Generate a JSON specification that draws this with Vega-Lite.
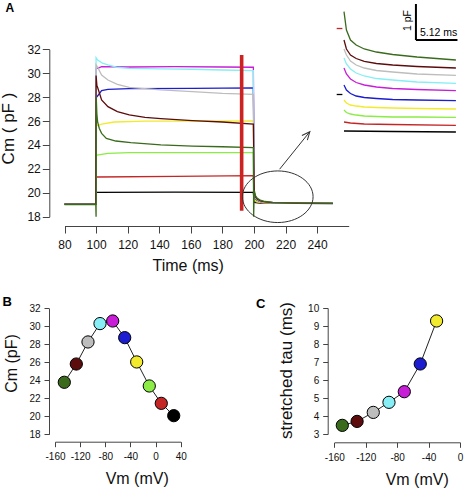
{
  "$schema": "https://vega.github.io/schema/vega-lite/v6.json",
  "width": 467,
  "height": 488,
  "autosize": "none",
  "padding": 0,
  "background": "white",
  "config": {
    "font": "Liberation Sans",
    "view": {"stroke": null},
    "axis": {"grid": false, "domainColor": "#444", "tickColor": "#444", "labelColor": "#111", "titleColor": "#111", "labelFont": "Liberation Sans", "titleFont": "Liberation Sans", "titleFontWeight": "normal", "labelFlush": false, "labelOverlap": false, "labelExpr": "'' + datum.value"}
  },
  "datasets": {
    "traces": [
      {"s":"30","t":80,"v":19.03},{"s":"30","t":99.8,"v":19.03},{"s":"30","t":100,"v":20.04},{"s":"30","t":150,"v":20.05},{"s":"30","t":199.6,"v":20.04},{"s":"30","t":200.2,"v":19.2},{"s":"30","t":204,"v":19.13},{"s":"30","t":250,"v":19.1},
      {"s":"10","t":80,"v":19.04},{"s":"10","t":99.8,"v":19.04},{"s":"10","t":100,"v":21.3},{"s":"10","t":100.6,"v":21.32},{"s":"10","t":150,"v":21.38},{"s":"10","t":199.6,"v":21.43},{"s":"10","t":200.2,"v":19.3},{"s":"10","t":202,"v":19.2},{"s":"10","t":206,"v":19.14},{"s":"10","t":250,"v":19.11},
      {"s":"-10","t":80,"v":19.05},{"s":"-10","t":99.8,"v":19.05},{"s":"-10","t":100,"v":23.1},{"s":"-10","t":100.6,"v":23.16},{"s":"-10","t":107.5,"v":23.3},{"s":"-10","t":121,"v":23.36},{"s":"-10","t":199.6,"v":23.36},{"s":"-10","t":200.2,"v":19.4},{"s":"-10","t":201,"v":19.3},{"s":"-10","t":202,"v":19.23},{"s":"-10","t":205,"v":19.17},{"s":"-10","t":212,"v":19.13},{"s":"-10","t":250,"v":19.11},
      {"s":"-30","t":80,"v":19.06},{"s":"-30","t":99.8,"v":19.06},{"s":"-30","t":100,"v":25.6},{"s":"-30","t":100.6,"v":25.61},{"s":"-30","t":103.5,"v":25.75},{"s":"-30","t":111.5,"v":25.92},{"s":"-30","t":131,"v":26.0},{"s":"-30","t":161,"v":26.0},{"s":"-30","t":199.6,"v":26.02},{"s":"-30","t":200.2,"v":19.55},{"s":"-30","t":201,"v":19.4},{"s":"-30","t":202,"v":19.3},{"s":"-30","t":204,"v":19.22},{"s":"-30","t":207,"v":19.17},{"s":"-30","t":212,"v":19.14},{"s":"-30","t":250,"v":19.11},
      {"s":"-50","t":80,"v":19.07},{"s":"-50","t":99.8,"v":19.07},{"s":"-50","t":100,"v":28.0},{"s":"-50","t":100.6,"v":28.04},{"s":"-50","t":103.5,"v":28.54},{"s":"-50","t":107.5,"v":28.65},{"s":"-50","t":121,"v":28.71},{"s":"-50","t":161,"v":28.74},{"s":"-50","t":199.6,"v":28.77},{"s":"-50","t":200.2,"v":19.7},{"s":"-50","t":201,"v":19.5},{"s":"-50","t":202,"v":19.38},{"s":"-50","t":204,"v":19.26},{"s":"-50","t":207,"v":19.2},{"s":"-50","t":212,"v":19.16},{"s":"-50","t":225,"v":19.13},{"s":"-50","t":250,"v":19.12},
      {"s":"-70","t":80,"v":19.08},{"s":"-70","t":99.8,"v":19.08},{"s":"-70","t":100,"v":30.4},{"s":"-70","t":101,"v":30.41},{"s":"-70","t":103.5,"v":30.55},{"s":"-70","t":120,"v":30.52},{"s":"-70","t":150,"v":30.55},{"s":"-70","t":180,"v":30.52},{"s":"-70","t":199.6,"v":30.5},{"s":"-70","t":200.2,"v":19.8},{"s":"-70","t":201,"v":19.55},{"s":"-70","t":202,"v":19.42},{"s":"-70","t":204,"v":19.28},{"s":"-70","t":207,"v":19.21},{"s":"-70","t":212,"v":19.17},{"s":"-70","t":225,"v":19.14},{"s":"-70","t":250,"v":19.12},
      {"s":"-90","t":80,"v":19.08},{"s":"-90","t":99.8,"v":19.08},{"s":"-90","t":100,"v":31.3},{"s":"-90","t":101,"v":31.1},{"s":"-90","t":104,"v":30.85},{"s":"-90","t":107.5,"v":30.69},{"s":"-90","t":113,"v":30.5},{"s":"-90","t":121,"v":30.41},{"s":"-90","t":141,"v":30.36},{"s":"-90","t":161,"v":30.33},{"s":"-90","t":180,"v":30.27},{"s":"-90","t":199.6,"v":30.22},{"s":"-90","t":200.2,"v":19.85},{"s":"-90","t":201,"v":19.58},{"s":"-90","t":202,"v":19.43},{"s":"-90","t":204,"v":19.29},{"s":"-90","t":207,"v":19.21},{"s":"-90","t":212,"v":19.17},{"s":"-90","t":225,"v":19.14},{"s":"-90","t":250,"v":19.12},
      {"s":"-110","t":80,"v":19.06},{"s":"-110","t":99.8,"v":19.06},{"s":"-110","t":100,"v":30.7},{"s":"-110","t":101,"v":30.5},{"s":"-110","t":103.5,"v":29.85},{"s":"-110","t":107.5,"v":29.43},{"s":"-110","t":113.5,"v":29.07},{"s":"-110","t":121,"v":28.82},{"s":"-110","t":131,"v":28.71},{"s":"-110","t":141,"v":28.6},{"s":"-110","t":161,"v":28.46},{"s":"-110","t":180,"v":28.32},{"s":"-110","t":199.6,"v":28.24},{"s":"-110","t":200.2,"v":19.9},{"s":"-110","t":201,"v":19.6},{"s":"-110","t":202,"v":19.45},{"s":"-110","t":204,"v":19.3},{"s":"-110","t":207,"v":19.22},{"s":"-110","t":212,"v":19.17},{"s":"-110","t":225,"v":19.14},{"s":"-110","t":250,"v":19.12},
      {"s":"-130","t":80,"v":19.05},{"s":"-130","t":99.8,"v":19.05},{"s":"-130","t":100,"v":29.8},{"s":"-130","t":100.5,"v":29.0},{"s":"-130","t":101.5,"v":28.6},{"s":"-130","t":103.5,"v":27.76},{"s":"-130","t":107.5,"v":27.2},{"s":"-130","t":113.5,"v":26.79},{"s":"-130","t":121,"v":26.51},{"s":"-130","t":131,"v":26.31},{"s":"-130","t":141,"v":26.2},{"s":"-130","t":161,"v":26.03},{"s":"-130","t":180,"v":25.92},{"s":"-130","t":199.6,"v":25.75},{"s":"-130","t":200.2,"v":20.0},{"s":"-130","t":201,"v":19.65},{"s":"-130","t":202,"v":19.48},{"s":"-130","t":204,"v":19.33},{"s":"-130","t":207,"v":19.24},{"s":"-130","t":212,"v":19.18},{"s":"-130","t":225,"v":19.14},{"s":"-130","t":250,"v":19.12},
      {"s":"-150","t":80,"v":19.02},{"s":"-150","t":99.8,"v":19.02},{"s":"-150","t":100,"v":18.0},{"s":"-150","t":100.1,"v":28.0},{"s":"-150","t":100.5,"v":26.6},{"s":"-150","t":101,"v":25.9},{"s":"-150","t":102,"v":25.4},{"s":"-150","t":103.5,"v":24.97},{"s":"-150","t":106.5,"v":24.55},{"s":"-150","t":112.5,"v":24.33},{"s":"-150","t":122,"v":24.19},{"s":"-150","t":141,"v":24.0},{"s":"-150","t":161,"v":23.91},{"s":"-150","t":180,"v":23.85},{"s":"-150","t":199.6,"v":23.78},{"s":"-150","t":199.8,"v":18.0},{"s":"-150","t":200.2,"v":20.2},{"s":"-150","t":201,"v":19.75},{"s":"-150","t":202,"v":19.55},{"s":"-150","t":204,"v":19.38},{"s":"-150","t":207,"v":19.27},{"s":"-150","t":212,"v":19.2},{"s":"-150","t":225,"v":19.15},{"s":"-150","t":250,"v":19.12}
    ],
    "inset": [
      {"s":"30","g":"m","t":0,"v":0.25},{"s":"30","g":"m","t":6,"v":0.236},{"s":"30","g":"m","t":13.8,"v":0.222},
      {"s":"30","g":"p","t":-0.9,"v":1.264},{"s":"30","g":"p","t":-0.2,"v":1.264},
      {"s":"10","g":"m","t":0,"v":0.5},{"s":"10","g":"m","t":0.8,"v":0.472},{"s":"10","g":"m","t":2.5,"v":0.444},{"s":"10","g":"m","t":6,"v":0.431},{"s":"10","g":"m","t":13.8,"v":0.408},
      {"s":"10","g":"p","t":-0.9,"v":3.097},{"s":"10","g":"p","t":-0.2,"v":3.097},
      {"s":"-10","g":"m","t":0,"v":0.833},{"s":"-10","g":"m","t":0.3,"v":0.764},{"s":"-10","g":"m","t":0.8,"v":0.722},{"s":"-10","g":"m","t":1.5,"v":0.694},{"s":"-10","g":"m","t":2.5,"v":0.667},{"s":"-10","g":"m","t":4,"v":0.653},{"s":"-10","g":"m","t":6,"v":0.639},{"s":"-10","g":"m","t":9,"v":0.639},{"s":"-10","g":"m","t":13.8,"v":0.631},
      {"s":"-30","g":"m","t":0,"v":1.111},{"s":"-30","g":"m","t":0.3,"v":1.028},{"s":"-30","g":"m","t":0.8,"v":0.972},{"s":"-30","g":"m","t":1.5,"v":0.944},{"s":"-30","g":"m","t":2.5,"v":0.917},{"s":"-30","g":"m","t":4,"v":0.903},{"s":"-30","g":"m","t":6,"v":0.889},{"s":"-30","g":"m","t":9,"v":0.875},{"s":"-30","g":"m","t":13.8,"v":0.861},
      {"s":"-50","g":"m","t":0,"v":1.528},{"s":"-50","g":"m","t":0.3,"v":1.389},{"s":"-50","g":"m","t":0.8,"v":1.292},{"s":"-50","g":"m","t":1.5,"v":1.222},{"s":"-50","g":"m","t":2.5,"v":1.181},{"s":"-50","g":"m","t":4,"v":1.153},{"s":"-50","g":"m","t":6,"v":1.125},{"s":"-50","g":"m","t":9,"v":1.111},{"s":"-50","g":"m","t":13.8,"v":1.092},
      {"s":"-70","g":"m","t":0,"v":2.0},{"s":"-70","g":"m","t":0.3,"v":1.833},{"s":"-70","g":"m","t":0.8,"v":1.694},{"s":"-70","g":"m","t":1.5,"v":1.597},{"s":"-70","g":"m","t":2.5,"v":1.528},{"s":"-70","g":"m","t":4,"v":1.472},{"s":"-70","g":"m","t":6,"v":1.431},{"s":"-70","g":"m","t":9,"v":1.403},{"s":"-70","g":"m","t":13.8,"v":1.369},
      {"s":"-90","g":"m","t":0,"v":2.278},{"s":"-90","g":"m","t":0.3,"v":2.111},{"s":"-90","g":"m","t":0.8,"v":1.972},{"s":"-90","g":"m","t":1.5,"v":1.861},{"s":"-90","g":"m","t":2.5,"v":1.778},{"s":"-90","g":"m","t":4,"v":1.708},{"s":"-90","g":"m","t":6,"v":1.667},{"s":"-90","g":"m","t":9,"v":1.611},{"s":"-90","g":"m","t":13.8,"v":1.575},
      {"s":"-110","g":"m","t":0,"v":2.528},{"s":"-110","g":"m","t":0.3,"v":2.361},{"s":"-110","g":"m","t":0.8,"v":2.194},{"s":"-110","g":"m","t":1.5,"v":2.083},{"s":"-110","g":"m","t":2.5,"v":2.0},{"s":"-110","g":"m","t":4,"v":1.931},{"s":"-110","g":"m","t":6,"v":1.889},{"s":"-110","g":"m","t":9,"v":1.833},{"s":"-110","g":"m","t":13.8,"v":1.797},
      {"s":"-130","g":"m","t":0,"v":2.778},{"s":"-130","g":"m","t":0.3,"v":2.528},{"s":"-130","g":"m","t":0.8,"v":2.361},{"s":"-130","g":"m","t":1.5,"v":2.264},{"s":"-130","g":"m","t":2.5,"v":2.181},{"s":"-130","g":"m","t":4,"v":2.125},{"s":"-130","g":"m","t":6,"v":2.083},{"s":"-130","g":"m","t":9,"v":2.042},{"s":"-130","g":"m","t":13.8,"v":2.0},
      {"s":"-150","g":"m","t":0,"v":3.564},{"s":"-150","g":"m","t":0.3,"v":3.056},{"s":"-150","g":"m","t":0.8,"v":2.778},{"s":"-150","g":"m","t":1.5,"v":2.639},{"s":"-150","g":"m","t":2.5,"v":2.528},{"s":"-150","g":"m","t":4,"v":2.444},{"s":"-150","g":"m","t":6,"v":2.375},{"s":"-150","g":"m","t":9,"v":2.306},{"s":"-150","g":"m","t":13.8,"v":2.222}
    ],
    "cm": [
      {"s":"-150","vm":-145.2,"cm":23.78},{"s":"-130","vm":-126.1,"cm":25.81},{"s":"-110","vm":-107.5,"cm":28.26},{"s":"-90","vm":-88.4,"cm":30.3},{"s":"-70","vm":-68.2,"cm":30.59},{"s":"-50","vm":-49.1,"cm":28.74},{"s":"-30","vm":-30.0,"cm":26.04},{"s":"-10","vm":-10.0,"cm":23.37},{"s":"10","vm":9.1,"cm":21.44},{"s":"30","vm":28.9,"cm":20.07}
    ],
    "tau": [
      {"s":"-150","vm":-149.8,"tau":3.48},{"s":"-130","vm":-131.0,"tau":3.7},{"s":"-110","vm":-110.4,"tau":4.2},{"s":"-90","vm":-90.4,"tau":4.76},{"s":"-70","vm":-70.9,"tau":5.35},{"s":"-50","vm":-50.6,"tau":6.89},{"s":"-30","vm":-29.8,"tau":9.28}
    ]
  },
  "layer": [
    {
      "layer": [
        {
          "data": {"name": "traces"},
          "mark": {"type": "line", "strokeWidth": 1.3},
          "encoding": {
            "x": {"field": "t", "type": "quantitative", "scale": {"domain": [80, 250], "range": [64.5, 348.7]},
              "axis": {"orient": "bottom", "offset": -262, "values": [80,100,120,140,160,180,200,220,240], "title": "Time (ms)", "titleFontSize": 16, "labelFontSize": 12, "tickSize": 7, "labelPadding": 6, "titlePadding": 7, "titleX": 187.7}},
            "y": {"field": "v", "type": "quantitative", "scale": {"domain": [18, 32], "range": [216.7, 49.3]},
              "axis": {"orient": "left", "offset": -49.3, "values": [18,20,22,24,26,28,30,32], "title": "Cm ( pF )", "titleFontSize": 17, "labelFontSize": 12, "tickSize": 7, "labelPadding": 2, "titlePadding": 9, "titleY": 128}},
            "color": {"field": "s", "type": "nominal", "legend": null,
              "scale": {"domain": ["-150","-130","-110","-90","-70","-50","-30","-10","10","30"],
                        "range": ["#3a6b1c","#5c0c0c","#bdbdbd","#86eef4","#c81ed8","#1c1cd0","#f2ea2c","#8aec44","#c42626","#000000"]}}
          }
        },
        {
          "data": {"values": [{"t": 192.2, "v": 18.5, "v2": 31.52}]},
          "mark": {"type": "rule", "color": "#cc2222", "strokeWidth": 3.6},
          "encoding": {"x": {"field": "t", "type": "quantitative"}, "y": {"field": "v", "type": "quantitative"}, "y2": {"field": "v2"}}
        },
        {
          "data": {"values": [{"t": 215.05, "v": 19.67}]},
          "mark": {"type": "point", "shape": "M-1.37,0A1.37,1,0,1,0,1.37,0A1.37,1,0,1,0,-1.37,0Z", "size": 2663, "filled": false, "stroke": "#333", "strokeWidth": 1, "opacity": 1},
          "encoding": {"x": {"field": "t", "type": "quantitative"}, "y": {"field": "v", "type": "quantitative"}}
        },
        {
          "data": {"values": [{"t": 216.24, "v": 21.97, "t2": 235.38, "v2": 25.11}]},
          "mark": {"type": "rule", "color": "#333", "strokeWidth": 1},
          "encoding": {"x": {"field": "t", "type": "quantitative"}, "x2": {"field": "t2"}, "y": {"field": "v", "type": "quantitative"}, "y2": {"field": "v2"}}
        },
        {
          "data": {"values": [{"t": 235.38, "v": 25.11}]},
          "mark": {"type": "point", "shape": "M-0.45,1L0,0L0.45,1", "size": 256, "angle": 40.4, "filled": false, "stroke": "#333", "strokeWidth": 1, "opacity": 1},
          "encoding": {"x": {"field": "t", "type": "quantitative"}, "y": {"field": "v", "type": "quantitative"}}
        },
        {
          "data": {"values": [{"t": 45.4, "v": 35.43, "label": "A"}]},
          "mark": {"type": "text", "fontSize": 12, "fontWeight": "bold", "align": "center", "baseline": "middle", "color": "#000"},
          "encoding": {"x": {"field": "t", "type": "quantitative"}, "y": {"field": "v", "type": "quantitative"}, "text": {"field": "label"}}
        }
      ]
    },
    {
      "layer": [
        {
          "data": {"name": "inset"},
          "mark": {"type": "line", "strokeWidth": 1.3},
          "encoding": {
            "x": {"field": "t", "type": "quantitative", "scale": {"domain": [0, 15], "range": [344, 473.75]}, "axis": null},
            "y": {"field": "v", "type": "quantitative", "scale": {"domain": [0, 4], "range": [140, -4]}, "axis": null},
            "color": {"field": "s", "type": "nominal", "legend": null},
            "detail": {"field": "g"}
          }
        },
        {
          "data": {"values": [{"t": 8.87, "v": 3.778, "t2": 8.87, "v2": 2.778}, {"t": 8.87, "v": 2.778, "t2": 13.99, "v2": 2.778}]},
          "mark": {"type": "rule", "color": "#000", "strokeWidth": 2},
          "encoding": {"x": {"field": "t", "type": "quantitative"}, "x2": {"field": "t2"}, "y": {"field": "v", "type": "quantitative"}, "y2": {"field": "v2"}}
        },
        {
          "data": {"values": [{"t": 11.66, "v": 2.98, "label": "5.12 ms"}]},
          "mark": {"type": "text", "fontSize": 10.5, "align": "center", "baseline": "middle", "color": "#000"},
          "encoding": {"x": {"field": "t", "type": "quantitative"}, "y": {"field": "v", "type": "quantitative"}, "text": {"field": "label"}}
        },
        {
          "data": {"values": [{"t": 7.94, "v": 3.32, "label": "1 pF"}]},
          "mark": {"type": "text", "fontSize": 10.5, "align": "center", "baseline": "middle", "angle": -90, "color": "#000"},
          "encoding": {"x": {"field": "t", "type": "quantitative"}, "y": {"field": "v", "type": "quantitative"}, "text": {"field": "label"}}
        }
      ]
    },
    {
      "layer": [
        {
          "data": {"name": "cm"},
          "mark": {"type": "line", "color": "#222", "strokeWidth": 1},
          "encoding": {
            "x": {"field": "vm", "type": "quantitative", "scale": {"domain": [-160, 40], "range": [55, 180.7]},
              "axis": {"orient": "bottom", "offset": -46.3, "values": [-160,-120,-80,-40,0,40], "title": "Vm (mV)", "titleFontSize": 16, "labelFontSize": 10, "tickSize": 5, "labelPadding": 5, "titlePadding": 9, "titleX": 136.7}},
            "y": {"field": "cm", "type": "quantitative", "scale": {"domain": [18, 32], "range": [434.3, 308.3]},
              "axis": {"orient": "left", "offset": -49, "values": [18,20,22,24,26,28,30,32], "title": "Cm (pF)", "titleFontSize": 16, "labelFontSize": 10, "tickSize": 5, "labelPadding": 4, "titlePadding": 9, "titleY": 363}}
          }
        },
        {
          "data": {"name": "cm"},
          "mark": {"type": "point", "filled": true, "size": 150, "stroke": "#000", "strokeWidth": 1, "opacity": 1},
          "encoding": {
            "x": {"field": "vm", "type": "quantitative"},
            "y": {"field": "cm", "type": "quantitative"},
            "color": {"field": "s", "type": "nominal", "legend": null}
          }
        },
        {
          "data": {"values": [{"vm": -236.1, "cm": 32.73, "label": "B"}]},
          "mark": {"type": "text", "fontSize": 13, "fontWeight": "bold", "align": "center", "baseline": "middle", "color": "#000"},
          "encoding": {"x": {"field": "vm", "type": "quantitative"}, "y": {"field": "cm", "type": "quantitative"}, "text": {"field": "label"}}
        }
      ]
    },
    {
      "layer": [
        {
          "data": {"name": "tau"},
          "mark": {"type": "line", "color": "#222", "strokeWidth": 1},
          "encoding": {
            "x": {"field": "vm", "type": "quantitative", "scale": {"domain": [-160, 0], "range": [334.3, 460]},
              "axis": {"orient": "bottom", "offset": -45.7, "values": [-160,-120,-80,-40,0], "title": "Vm (mV)", "titleFontSize": 16, "labelFontSize": 10, "tickSize": 5, "labelPadding": 5, "titlePadding": 9, "titleX": 416.7}},
            "y": {"field": "tau", "type": "quantitative", "scale": {"domain": [3, 10], "range": [434, 308]},
              "axis": {"orient": "left", "offset": -327.7, "values": [3,4,5,6,7,8,9,10], "title": "stretched tau (ms)", "titleFontSize": 17, "labelFontSize": 10, "tickSize": 5, "labelPadding": 4, "titlePadding": 12, "titleY": 370}}
          }
        },
        {
          "data": {"name": "tau"},
          "mark": {"type": "point", "filled": true, "size": 150, "stroke": "#000", "strokeWidth": 1, "opacity": 1},
          "encoding": {
            "x": {"field": "vm", "type": "quantitative"},
            "y": {"field": "tau", "type": "quantitative"},
            "color": {"field": "s", "type": "nominal", "legend": null}
          }
        },
        {
          "data": {"values": [{"vm": -253.6, "tau": 10.22, "label": "C"}]},
          "mark": {"type": "text", "fontSize": 13, "fontWeight": "bold", "align": "center", "baseline": "middle", "color": "#000"},
          "encoding": {"x": {"field": "vm", "type": "quantitative"}, "y": {"field": "tau", "type": "quantitative"}, "text": {"field": "label"}}
        }
      ]
    }
  ],
  "resolve": {"scale": {"x": "independent", "y": "independent"}, "axis": {"x": "independent", "y": "independent"}}
}
